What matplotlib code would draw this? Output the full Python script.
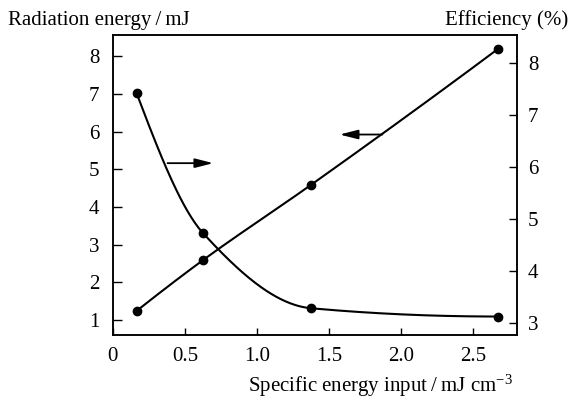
import matplotlib
matplotlib.use("Agg")
import matplotlib.pyplot as plt
import numpy as np

plt.rcParams['font.family'] = ['Liberation Serif', 'DejaVu Serif']
plt.rcParams['mathtext.fontset'] = 'custom'
plt.rcParams['mathtext.rm'] = 'Liberation Serif'
plt.rcParams['mathtext.it'] = 'Liberation Serif:italic'

# data
energy_input = [0.166, 0.627, 1.373, 2.67]
radiation_energy = [1.24, 2.59, 4.58, 8.19]
efficiency = [7.42, 4.73, 3.29, 3.13]

x_ticks = [0, 0.5, 1.0, 1.5, 2.0, 2.5]
x_tick_labels = ["0", "0.5", "1.0", "1.5", "2.0", "2.5"]
left_ticks = [1, 2, 3, 4, 5, 6, 7, 8]
right_ticks = [3, 4, 5, 6, 7, 8]


def pchip(xs, ys, xnew):
    # monotone cubic through the points, used only to draw a smooth line
    xs = np.asarray(xs, float)
    ys = np.asarray(ys, float)
    h = np.diff(xs)
    d = np.diff(ys) / h
    m = np.zeros_like(ys)
    for k in range(1, len(xs) - 1):
        if d[k - 1] * d[k] > 0:
            w1 = 2 * h[k] + h[k - 1]
            w2 = h[k] + 2 * h[k - 1]
            m[k] = (w1 + w2) / (w1 / d[k - 1] + w2 / d[k])
    m[0] = ((2 * h[0] + h[1]) * d[0] - h[0] * d[1]) / (h[0] + h[1])
    if np.sign(m[0]) != np.sign(d[0]):
        m[0] = 0
    m[-1] = ((2 * h[-1] + h[-2]) * d[-1] - h[-1] * d[-2]) / (h[-1] + h[-2])
    if np.sign(m[-1]) != np.sign(d[-1]):
        m[-1] = 0
    out = np.empty_like(xnew)
    idx = np.clip(np.searchsorted(xs, xnew) - 1, 0, len(xs) - 2)
    for j, xv in enumerate(xnew):
        k = idx[j]
        t = (xv - xs[k]) / h[k]
        h00 = 2 * t**3 - 3 * t**2 + 1
        h10 = t**3 - 2 * t**2 + t
        h01 = -2 * t**3 + 3 * t**2
        h11 = t**3 - t**2
        out[j] = h00 * ys[k] + h10 * h[k] * m[k] + h01 * ys[k + 1] + h11 * h[k] * m[k + 1]
    return out


fig = plt.figure(figsize=(5.73, 4.01), dpi=100)
ax = fig.add_axes([0.1967, 0.1646, 0.705, 0.748])
ax2 = ax.twinx()

xs = np.linspace(energy_input[0], energy_input[-1], 300)

ax.plot(xs, pchip(energy_input, radiation_energy, xs), color='black', lw=1.5)
ax.plot(energy_input, radiation_energy, 'o', color='black', ms=6)

ax2.plot(xs, pchip(energy_input, efficiency, xs), color='black', lw=1.5)
ax2.plot(energy_input, efficiency, 'o', color='black', ms=6)

ax.set_xlim(0, 2.8)
ax.set_ylim(0.6, 8.56)
ax2.set_ylim(2.775, 8.54)

ax.set_xticks(x_ticks)
ax.set_xticklabels(x_tick_labels)
ax.set_yticks(left_ticks)
ax2.set_yticks(right_ticks)

ax.tick_params(axis='y', direction='in', length=6.5, width=1, labelsize=15, pad=9.5)
ax.tick_params(axis='x', direction='in', length=5, width=1, labelsize=15, pad=9)
ax2.tick_params(axis='y', direction='in', length=6, width=1, labelsize=15, pad=8)
for a in (ax, ax2):
    for s in a.spines.values():
        s.set_linewidth(1.1)

# arrows showing which axis each curve belongs to
arrow = dict(arrowstyle='-|>,head_length=0.55,head_width=0.14', color='black',
             lw=1.3, mutation_scale=20, shrinkA=0, shrinkB=0)
ax.annotate('', xy=(0.697, 5.16), xytext=(0.38, 5.16), arrowprops=arrow)
ax.annotate('', xy=(1.573, 5.92), xytext=(1.869, 5.92), arrowprops=arrow)

fig.text(0.014, 0.9377, 'Radiation energy\u2009/\u2009mJ', fontsize=15,
         ha='left', va='baseline')
fig.text(0.992, 0.9377, 'Efficiency (%)', fontsize=15, ha='right', va='baseline')
fig.text(0.895, 0.024, 'Specific energy input\u2009/\u2009mJ cm$^{-3}$', fontsize=15,
         ha='right', va='baseline')

fig.savefig('out.png', dpi=100)
